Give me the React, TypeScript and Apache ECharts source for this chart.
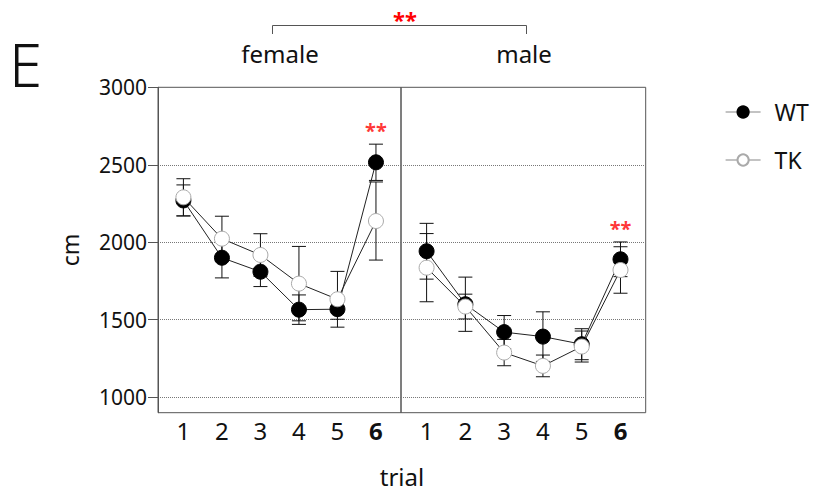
import React, { useEffect, useRef } from "react";
import * as echarts from "echarts";

const trials = [1, 2, 3, 4, 5, 6];
const femaleWT = [2270, 1900, 1810, 1565, 1568, 2516];
const femaleWTErr = [100, 130, 96, 95, 65, 117];
const femaleTK = [2290, 2023, 1918, 1733, 1632, 2137];
const femaleTKErr = [120, 145, 137, 240, 180, 252];
const maleWT = [1942, 1600, 1420, 1391, 1342, 1890];
const maleWTErr = [180, 175, 107, 160, 100, 112];
const maleTK = [1836, 1585, 1288, 1202, 1327, 1821];
const maleTKErr = [220, 80, 85, 70, 100, 150];
const yTicks = [1000, 1500, 2000, 2500, 3000];
const gridLineValues = [1000, 1500, 2000, 2500];
const panelNames = ["female", "male"];
const starTrial = [6, 6];
const starValue = [2720, 2090];

const FONT = "Noto Sans";
const INK = "#111";

function pts(vals: number[]) {
  return trials.map((t, i) => [t, vals[i]]);
}
function errs(vals: number[], e: number[]) {
  return trials.map((t, i) => [t, vals[i] - e[i], vals[i] + e[i]]);
}

const errRender = (params: any, api: any) => {
  const x = api.value(0);
  const lo = api.value(1);
  const hi = api.value(2);
  const a = api.coord([x, hi]);
  const b = api.coord([x, lo]);
  const w = 7;
  const style = { stroke: INK, lineWidth: 1 };
  return {
    type: "group",
    children: [
      { type: "line", shape: { x1: a[0], y1: a[1], x2: b[0], y2: b[1] }, style },
      { type: "line", shape: { x1: a[0] - w, y1: a[1], x2: a[0] + w, y2: a[1] }, style },
      { type: "line", shape: { x1: b[0] - w, y1: b[1], x2: b[0] + w, y2: b[1] }, style },
    ],
  };
};

export default function App() {
  const ref = useRef<HTMLDivElement>(null);
  useEffect(() => {
    if (!ref.current) return;
    const chart = echarts.init(ref.current, undefined, { renderer: "svg" });
    const panels = [
      { wt: femaleWT, wtE: femaleWTErr, tk: femaleTK, tkE: femaleTKErr },
      { wt: maleWT, wtE: maleWTErr, tk: maleTK, tkE: maleTKErr },
    ];
    const series: any[] = [];
    panels.forEach((p, gi) => {
      series.push({
        type: "custom",
        name: "errWT" + gi,
        xAxisIndex: gi,
        yAxisIndex: gi,
        renderItem: errRender,
        encode: { x: 0, y: [1, 2] },
        data: errs(p.wt, p.wtE),
        z: 1,
        silent: true,
      });
      series.push({
        type: "custom",
        name: "errTK" + gi,
        xAxisIndex: gi,
        yAxisIndex: gi,
        renderItem: errRender,
        encode: { x: 0, y: [1, 2] },
        data: errs(p.tk, p.tkE),
        z: 1,
        silent: true,
      });
      series.push({
        type: "line",
        name: "WT",
        xAxisIndex: gi,
        yAxisIndex: gi,
        data: pts(p.wt),
        symbol: "circle",
        symbolSize: 15,
        itemStyle: { color: "#000", borderColor: "#000", borderWidth: 1 },
        lineStyle: { color: "#222", width: 1 },
        z: 2,
        markLine: {
          silent: true,
          symbol: "none",
          label: { show: false },
          lineStyle: { type: "dotted", color: "#777", width: 1 },
          data: gridLineValues.map((v) => ({ yAxis: v })),
          z: 0,
        },
      });
      series.push({
        type: "line",
        name: "TK",
        xAxisIndex: gi,
        yAxisIndex: gi,
        data: pts(p.tk),
        symbol: "circle",
        symbolSize: 15,
        itemStyle: { color: "#fff", borderColor: "#aaa", borderWidth: 1 },
        lineStyle: { color: "#222", width: 1 },
        z: 3,
      });
      series.push({
        type: "scatter",
        name: "star" + gi,
        xAxisIndex: gi,
        yAxisIndex: gi,
        symbolSize: 0,
        data: [[starTrial[gi], starValue[gi]]],
        label: {
          show: true,
          position: "inside",
          formatter: "**",
          color: "#ff0000",
          fontSize: 20,
          fontWeight: "bold",
          fontFamily: FONT,
        },
        z: 4,
        silent: true,
      });
    });

    const xAxisCommon = (gi: number) => ({
      type: "value",
      gridIndex: gi,
      min: 0.34,
      max: 6.65,
      axisLine: { show: false },
      axisTick: { show: false },
      splitLine: { show: false },
      axisLabel: {
        customValues: trials,
        fontSize: 24,
        color: INK,
        fontFamily: FONT,
        margin: 6,
        formatter: (v: number) => (v === 6 ? "{b|6}" : String(v)),
        rich: { b: { fontWeight: "bold", fontSize: 24, color: INK, fontFamily: FONT } },
      },
    });

    chart.setOption({
      animation: false,
      backgroundColor: "#fff",
      textStyle: { fontFamily: FONT },
      grid: [
        { left: 158, right: 417, top: 87.3, bottom: 80.3, show: true, borderColor: "#555", borderWidth: 1, backgroundColor: "transparent" },
        { left: 401, right: 172.3, top: 87.3, bottom: 80.3, show: true, borderColor: "#555", borderWidth: 1, backgroundColor: "transparent" },
      ],
      xAxis: [xAxisCommon(0), xAxisCommon(1)],
      yAxis: [
        {
          type: "value",
          gridIndex: 0,
          min: 900,
          max: 3000,
          name: "cm",
          nameLocation: "middle",
          nameGap: 77,
          nameTextStyle: { fontSize: 23, color: INK, fontFamily: FONT },
          axisLine: { show: true, lineStyle: { color: "#555", width: 1 } },
          axisTick: { show: true, length: 10, customValues: yTicks, lineStyle: { color: "#555" } },
          axisLabel: {
            customValues: yTicks,
            fontSize: 21,
            color: INK,
            fontFamily: FONT,
            margin: 11,
            formatter: (v: number) => String(v),
          },
          splitLine: { show: false },
        },
        {
          type: "value",
          gridIndex: 1,
          min: 900,
          max: 3000,
          axisLine: { show: false },
          axisTick: { show: false },
          axisLabel: { show: false },
          splitLine: { show: false },
        },
      ],
      legend: {
        data: ["WT", "TK"],
        orient: "vertical",
        left: 720,
        top: 95,
        itemWidth: 35,
        itemHeight: 14,
        itemGap: 24,
        lineStyle: { color: "#888", width: 1.2 },
        textStyle: { fontSize: 23, color: INK, fontFamily: FONT, lineHeight: 24, padding: [0, 0, 0, 9] },
        selectedMode: false,
      },
      graphic: [
        {
          type: "text",
          x: 9,
          y: 64,
          style: { text: "E", fontSize: 60, fontWeight: 300, fontFamily: FONT, fill: INK, verticalAlign: "middle" },
        },
        {
          type: "polyline",
          shape: { points: [[272.5, 34], [272.5, 25.5], [526.5, 25.5], [526.5, 34]] },
          style: { stroke: "#555", lineWidth: 1, fill: "none" },
        },
        {
          type: "text",
          x: 405,
          y: 19,
          style: { text: "**", fontSize: 22, fontWeight: "bold", fill: "#ff0000", fontFamily: FONT, align: "center", verticalAlign: "middle" },
        },
        ...panelNames.map((n, i) => ({
          type: "text",
          x: i === 0 ? 280 : 524,
          y: 53,
          style: { text: n, fontSize: 24, fill: INK, fontFamily: FONT, align: "center", verticalAlign: "middle" },
        })),
        {
          type: "text",
          x: 402,
          y: 476,
          style: { text: "trial", fontSize: 24, fill: INK, fontFamily: FONT, align: "center", verticalAlign: "middle" },
        },
      ],
      series,
    });
    return () => chart.dispose();
  }, []);
  return (
    <div
      ref={ref}
      style={{ position: "fixed", left: 0, top: 0, width: 818, height: 493, background: "#fff" }}
    />
  );
}
